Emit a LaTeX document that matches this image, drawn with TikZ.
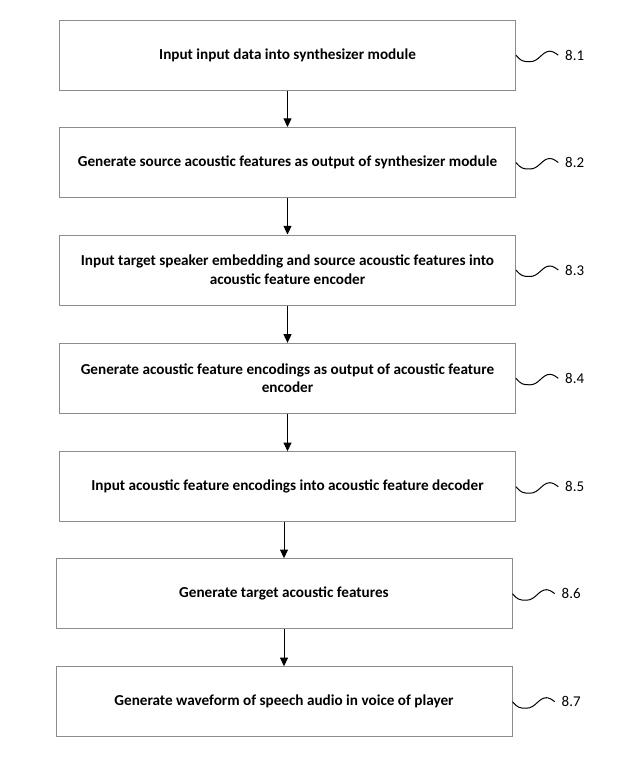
\documentclass[tikz,border=0pt]{standalone}
\usepackage{fontspec}
\setmainfont{Carlito}
\usetikzlibrary{arrows.meta,positioning}

\begin{document}
\begin{tikzpicture}[x=0.75pt,y=-0.75pt,>={Triangle[length=6.5pt,width=6pt]},
  stepbox/.style={draw=black!45,line width=0.75pt,minimum width=342pt,minimum height=52.5pt,
    align=center,font=\fontsize{11.4}{14}\selectfont\bfseries,inner sep=0pt},
  tag/.style={font=\fontsize{11.2}{13}\selectfont,inner sep=5pt,anchor=west},
  wave/.style={line width=0.75pt,to path={.. controls +(5,6) and +(-7,0) .. ++(14,6.5)
    .. controls +(9,0) and +(-8,0) .. ++(20,-10.5) .. controls +(3,0) and +(-2,-1.5) .. (\tikztotarget)}}]
\useasboundingbox (0,0) rectangle (625,759);
\node[stepbox] (b1) at (287.5,55.2) {Input input data into synthesizer module};
\node[stepbox] (b2) at (287.5,162.5) {Generate source acoustic features as output of synthesizer module};
\node[stepbox] (b3) at (287.5,270) {Input target speaker embedding and source acoustic features into\\acoustic feature encoder};
\node[stepbox] (b4) at (287.5,378.3) {Generate acoustic feature encodings as output of acoustic feature\\encoder};
\node[stepbox] (b5) at (287.5,486.7) {Input acoustic feature encodings into acoustic feature decoder};
\node[stepbox] (b6) at (284,593.7) {Generate target acoustic features};
\node[stepbox] (b7) at (284,701.7) {Generate waveform of speech audio in voice of player};
% step numbers
\node[tag,right=31.7pt of b1.east] (t1) {8.1};
\node[tag,right=31.7pt of b2.east] (t2) {8.2};
\node[tag,right=31.7pt of b3.east] (t3) {8.3};
\node[tag,right=31.7pt of b4.east] (t4) {8.4};
\node[tag,right=31.7pt of b5.east] (t5) {8.5};
\node[tag,right=31.7pt of b6.east] (t6) {8.6};
\node[tag,right=31.7pt of b7.east] (t7) {8.7};
\draw[wave] (b1.east) to (t1.west);
\draw[wave] (b2.east) to (t2.west);
\draw[wave] (b3.east) to (t3.west);
\draw[wave] (b4.east) to (t4.west);
\draw[wave] (b5.east) to (t5.west);
\draw[wave] (b6.east) to (t6.west);
\draw[wave] (b7.east) to (t7.west);
% flow
\draw[->,line width=0.75pt] (b1.south) -- (b2.north);
\draw[->,line width=0.75pt] (b2.south) -- (b3.north);
\draw[->,line width=0.75pt] (b3.south) -- (b4.north);
\draw[->,line width=0.75pt] (b4.south) -- (b5.north);
\draw[->,line width=0.75pt] (b5.south -| b6.north) -- (b6.north);
\draw[->,line width=0.75pt] (b6.south) -- (b7.north);
\end{tikzpicture}
\end{document}
